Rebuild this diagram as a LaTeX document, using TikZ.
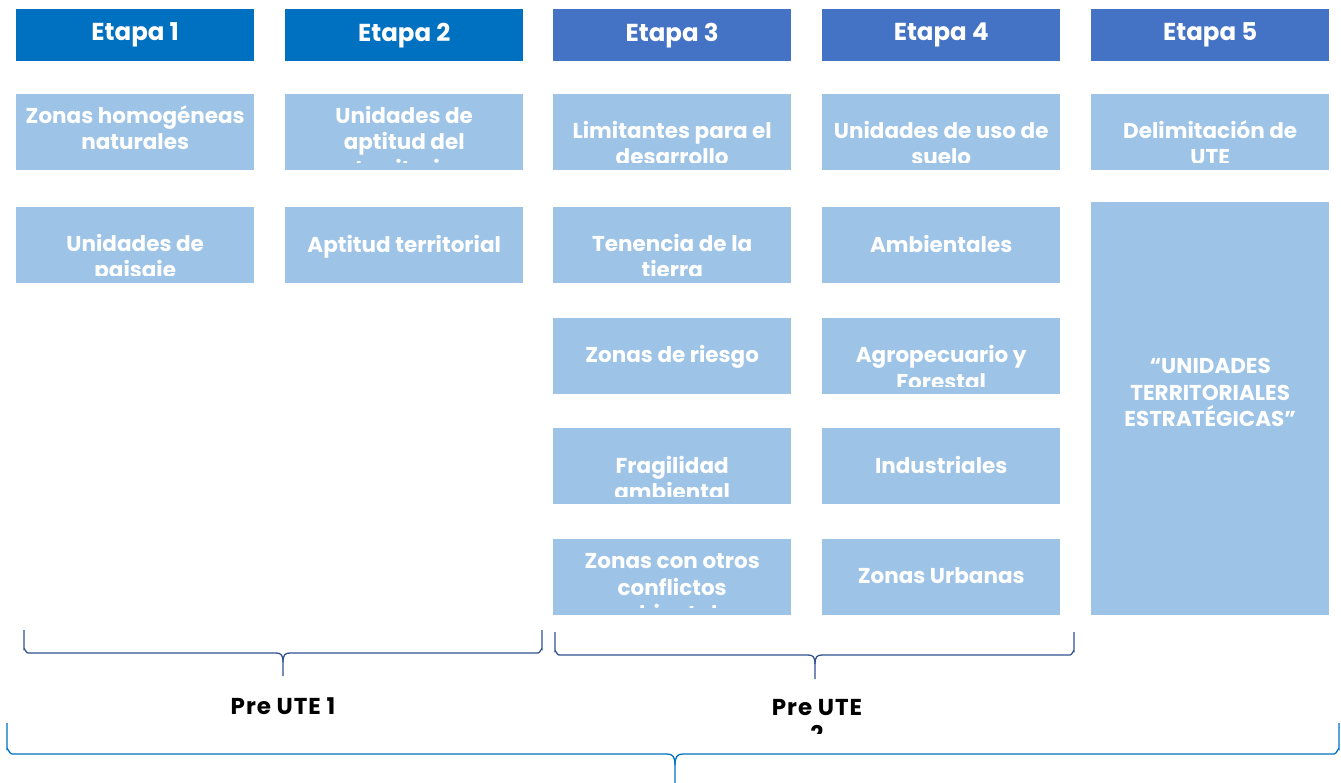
\documentclass[tikz,border=0pt]{standalone}
\usepackage{fontspec}
\setmainfont{Poppins}
\definecolor{hdrdark}{HTML}{0070C0}
\definecolor{hdrmid}{HTML}{4472C4}
\definecolor{lightbox}{HTML}{9DC3E6}
\definecolor{bracedark}{HTML}{2F528F}
\definecolor{bracebig}{HTML}{0070C0}
\tikzset{
  hdrA/.style={fill=hdrdark, draw=none, anchor=north west, minimum width=238pt, minimum height=52pt, inner sep=0pt,
     text=white, font=\bfseries\fontsize{24.5}{26}\selectfont},
  hdrB/.style={hdrA, fill=hdrmid},
  lbox/.style={fill=lightbox, draw=none, anchor=north west, minimum width=238pt, inner sep=0pt},
  btext/.style={text=white, font=\bfseries\fontsize{21.5}{26.5}\selectfont, align=center, inner sep=0pt, anchor=base},
  ptext/.style={text=black, font=\bfseries\fontsize{23}{26.5}\selectfont\addfontfeature{LetterSpace=4}, align=center, inner sep=0pt, anchor=base},
  bracelineA/.style={draw=bracedark, line width=1.3pt},
  bracelineB/.style={draw=bracebig, line width=1.3pt},
}
% \ubox{name}{x}{y}{height}{last line centre offset from top}{text}
\newcommand\ubox[6]{%
  \node[lbox, minimum height=#4pt] (#1) at (#2,#3) {};
  \begin{scope}
    \clip (#1.north west) rectangle ([yshift=8pt]#1.south east);
    \node[btext] (#1t) at ([yshift=-#5pt-7.5pt]#1.north) {#6};
  \end{scope}}
\begin{document}
\begin{tikzpicture}[x=1pt,y=-1pt]
\useasboundingbox (0,0) rectangle (1341,783);
% headers
\node[hdrA] (h1) at (16,9) {Etapa 1};
\node[hdrA] (h2) at (285,9) {Etapa 2};
\node[hdrB] (h3) at (553,9) {Etapa 3};
\node[hdrB] (h4) at (822,9) {Etapa 4};
\node[hdrB] (h5) at (1091,9) {Etapa 5};
% column 1
\ubox{a1}{16}{94}{76}{48.5}{Zonas homogéneas\\naturales}
\ubox{a2}{16}{207}{76}{63.5}{Unidades de\\paisaje}
% column 2
\ubox{b1}{285}{94}{76}{75}{Unidades de\\aptitud del\\territorio}
\ubox{b2}{285}{207}{76}{38}{Aptitud territorial}
% column 3
\ubox{c1}{553}{94}{76}{63.5}{Limitantes para el\\desarrollo}
\ubox{c2}{553}{207}{76}{63.5}{Tenencia de la\\tierra}
\ubox{c3}{553}{318}{76}{37}{Zonas de riesgo}
\ubox{c4}{553}{428}{76}{64}{Fragilidad\\ambiental}
\ubox{c5}{553}{539}{76}{75}{Zonas con otros\\conflictos\\ambientales}
% column 4
\ubox{d1}{822}{94}{76}{63.5}{Unidades de uso de\\suelo}
\ubox{d2}{822}{207}{76}{38}{Ambientales}
\ubox{d3}{822}{318}{76}{63.5}{Agropecuario y\\Forestal}
\ubox{d4}{822}{428}{76}{38}{Industriales}
\ubox{d5}{822}{539}{76}{37}{Zonas Urbanas}
% column 5
\ubox{e1}{1091}{94}{76}{63.5}{Delimitación de\\UTE}
\ubox{e2}{1091}{202}{413}{217}{“UNIDADES\\TERRITORIALES\\ESTRATÉGICAS”}
% brace 1
\coordinate (br1tip) at (283,676);
\draw[bracelineA] (24,630) -- (24,649) to[out=90,in=180] (28,653) -- (276,653)
   .. controls (281,653) and (283,655) .. (283,662) -- (br1tip);
\draw[bracelineA] (542,630) -- (542,649) to[out=90,in=0] (538,653) -- (290,653)
   .. controls (285,653) and (283,655) .. (283,662);
\node[ptext] (pre1) at ([yshift=-38pt]br1tip) {Pre UTE 1};
% brace 2
\coordinate (br2tip) at (815,679);
\draw[bracelineA] (555,632) -- (555,651) to[out=90,in=180] (559,655) -- (808,655)
   .. controls (813,655) and (815,657) .. (815,664) -- (br2tip);
\draw[bracelineA] (1074,632) -- (1074,651) to[out=90,in=0] (1070,655) -- (822,655)
   .. controls (817,655) and (815,657) .. (815,664);
\begin{scope}
  \clip (700,690) rectangle (940,733);
  \node[ptext] (pre2) at (817,742) {Pre UTE\\2};
\end{scope}
% big brace
\coordinate (br3tip) at (675,783);
\draw[bracelineB] (7,723) -- (7,749) to[out=90,in=180] (12,754) -- (667,754)
   .. controls (673,754) and (675,757) .. (675,765) -- (br3tip);
\draw[bracelineB] (1339,723) -- (1339,749) to[out=90,in=0] (1334,754) -- (683,754)
   .. controls (677,754) and (675,757) .. (675,765);
\end{tikzpicture}
\end{document}
